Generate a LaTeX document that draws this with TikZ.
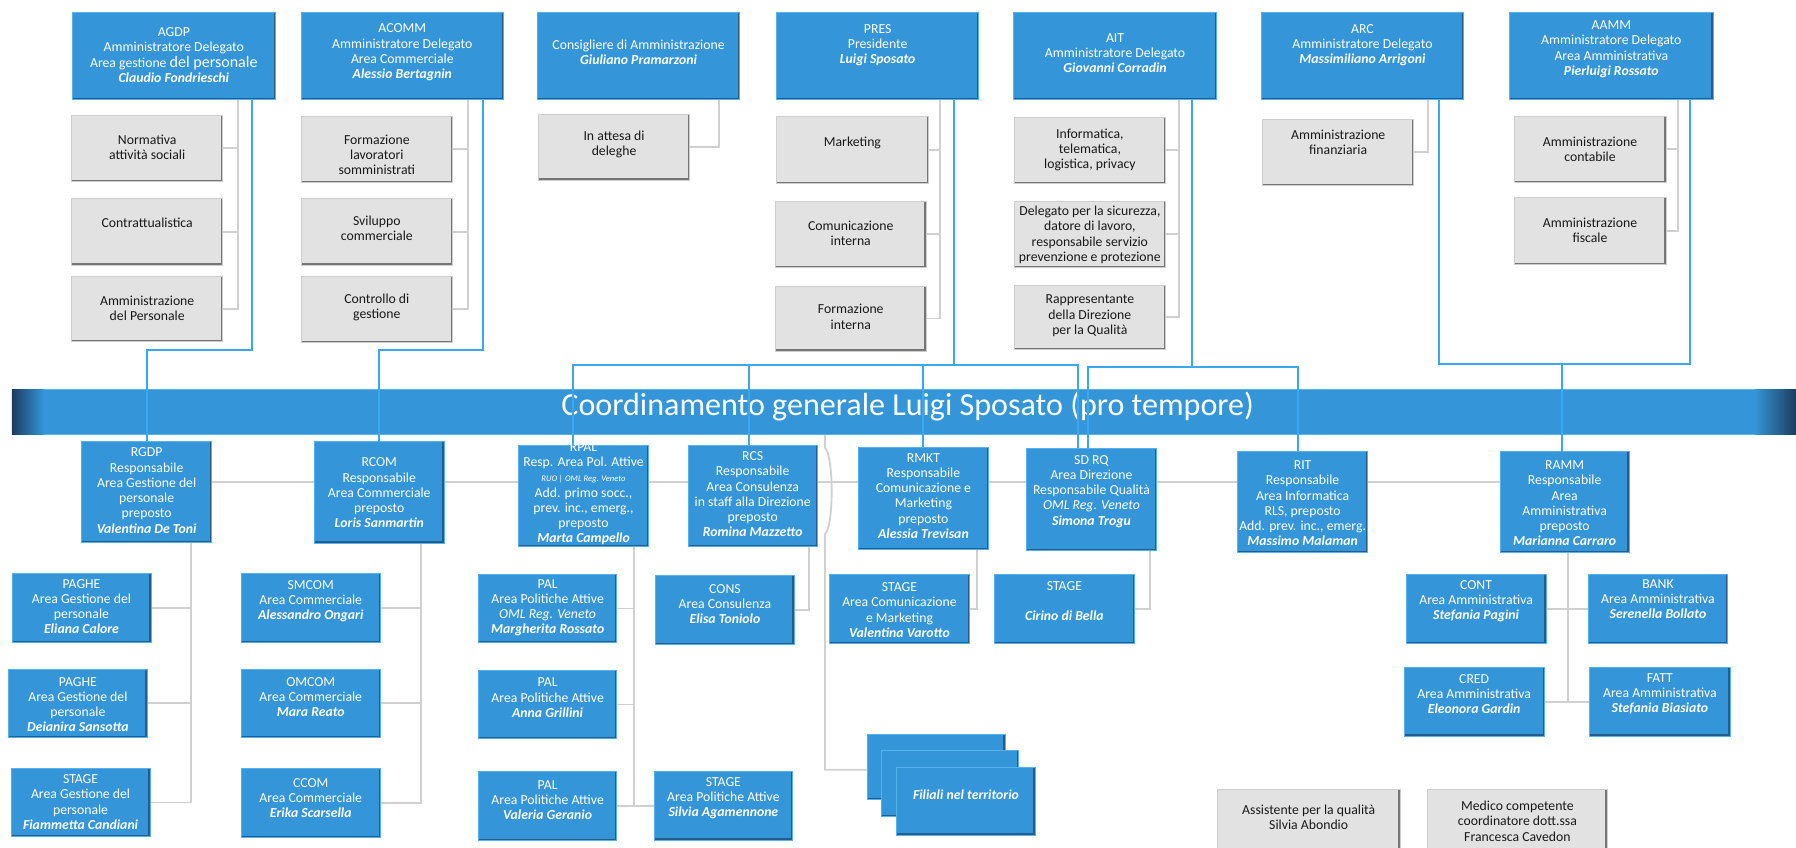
\documentclass[tikz,border=0pt]{standalone}
\usepackage{fontspec}
\setmainfont{Carlito}
\pgfdeclarelayer{bg}
\pgfsetlayers{bg,main}
\definecolor{bxfill}{RGB}{52,150,216}
\definecolor{bxdark}{RGB}{36,92,140}
\definecolor{bxlight}{RGB}{84,178,240}
\definecolor{gyfill}{RGB}{226,226,226}
\definecolor{gyedge}{RGB}{205,205,205}
\definecolor{gydark}{RGB}{118,118,118}
\definecolor{glinec}{RGB}{208,208,208}
\definecolor{blinec}{RGB}{58,168,238}
\definecolor{bnrdark}{RGB}{28,60,95}
\newcommand\NomeP[1]{{\bfseries\itshape #1}}
\tikzset{
  bluebx/.style={draw=bxlight, line width=0.7pt, fill=bxfill, inner sep=0pt, outer sep=0pt,
    path picture={\draw[bxdark, line width=3pt] (path picture bounding box.north east) -- (path picture bounding box.south east) -- (path picture bounding box.south west);}},
  greybx/.style={draw=gyedge, line width=0.7pt, fill=gyfill, inner sep=0pt, outer sep=0pt,
    path picture={\draw[gydark, line width=3pt] (path picture bounding box.north east) -- (path picture bounding box.south east) -- (path picture bounding box.south west);}},
  bluebx text/.style={text=white, align=center, inner sep=0pt, font=\fontsize{12}{13.3}\selectfont},
  greybx text/.style={text=black!90, align=center, inner sep=0pt, font=\fontsize{12}{13.3}\selectfont},
  gconn/.style={draw=glinec, line width=1.6pt},
  bconn/.style={draw=blinec, line width=1.6pt},
}
% style, name, x1, y1, x2, y2, text centre y, text
\newcommand\mkbox[8]{%
  \node[#1, minimum width={(#5-#3)*1pt}, minimum height={(#6-#4)*1pt}, anchor=north west] (#2) at (#3,#4) {};
  \node[#1 text] (#2-t) at ({(#3+#5)/2},#7) {#8};}

\begin{document}
\begin{tikzpicture}[x=1pt,y=-1pt]
\useasboundingbox (0,0) rectangle (1568,740);
\clip (0,0) rectangle (1568,740);

% ---------- top row ----------
\mkbox{bluebx}{agdp}{63}{10.5}{240.5}{87}{48}{AGDP\\Amministratore Delegato\\Area gestione {\fontsize{14}{15}\selectfont del personale}\\\NomeP{Claudio Fondrieschi}}
\mkbox{bluebx}{acomm}{263}{10.5}{439.5}{87}{45.8}{ACOMM\\Amministratore Delegato\\Area Commerciale\\\NomeP{Alessio Bertagnin}}
\mkbox{bluebx}{consig}{469.5}{10.5}{645.5}{87}{45.8}{Consigliere di Amministrazione\\\NomeP{Giuliano Pramarzoni}}
\mkbox{bluebx}{pres}{678}{10.5}{854.5}{87}{39.3}{PRES\\Presidente\\\NomeP{Luigi Sposato}}
\mkbox{bluebx}{ait}{885}{10.5}{1062}{87}{46.6}{AIT\\Amministratore Delegato\\\NomeP{Giovanni Corradin}}
\mkbox{bluebx}{arc}{1101}{10.5}{1278}{87}{39.3}{ARC\\Amministratore Delegato\\\NomeP{Massimiliano Arrigoni}}
\mkbox{bluebx}{aamm}{1318}{10.5}{1495.5}{87}{42.9}{AAMM\\Amministratore Delegato\\Area Amministrativa\\\NomeP{Pierluigi Rossato}}

% ---------- grey function boxes ----------
\mkbox{greybx}{norm}{62.6}{100.4}{194.4}{158.6}{128.5}{Normativa\\attività sociali}
\mkbox{greybx}{contr}{62.6}{173.1}{194.4}{231.4}{194.4}{Contrattualistica}
\mkbox{greybx}{ammp}{62.6}{241.5}{194.4}{298.3}{268.9}{Amministrazione\\del Personale}
\mkbox{greybx}{formaz}{262.8}{101.3}{395.2}{159.5}{135.3}{Formazione\\lavoratori\\somministrati}
\mkbox{greybx}{svil}{262.8}{173.1}{395.2}{231.4}{199.5}{Sviluppo\\commerciale}
\mkbox{greybx}{contg}{262.8}{241}{395.2}{299.2}{268.5}{Controllo di\\gestione}
\mkbox{greybx}{attesa}{470.2}{99.8}{602}{157.2}{125.9}{In attesa di\\deleghe}
\mkbox{greybx}{mkt}{678}{101.9}{810.4}{160}{125.1}{Marketing}
\mkbox{greybx}{comint}{677}{175.5}{808.5}{233.7}{203.7}{Comunicazione\\interna}
\mkbox{greybx}{forint}{677}{249.7}{808.5}{306.4}{276.5}{Formazione\\interna}
\mkbox{greybx}{info}{885.7}{102.4}{1017.3}{160}{131}{Informatica,\\telematica,\\logistica, privacy}
\mkbox{greybx}{deleg}{885.7}{175.5}{1017.3}{233.7}{205}{Delegato per la sicurezza,\\datore di lavoro,\\responsabile servizio\\prevenzione e protezione}
\mkbox{greybx}{rapp}{885.7}{248.8}{1017.3}{305}{275.7}{Rappresentante\\della Direzione\\per la Qualità}
\mkbox{greybx}{afin}{1102.3}{103.9}{1234.3}{162.1}{124.4}{Amministrazione\\finanziaria}
\mkbox{greybx}{acont}{1321.8}{101.3}{1454.5}{159.5}{130.2}{Amministrazione\\contabile}
\mkbox{greybx}{afisc}{1321.8}{172.6}{1454.5}{230.8}{200.8}{Amministrazione\\fiscale}

% ---------- banner ----------
\node[draw=bxlight, line width=0.6pt, fill=bxfill, inner sep=0pt, outer sep=0pt,
      minimum width=1557.6pt, minimum height=39.3pt, anchor=north west] (banner) at (10.4,339.7) {};
\shade[left color=bnrdark, right color=bxfill] (banner.north west) rectangle ([xshift=28pt]banner.south west);
\shade[left color=bxfill, right color=bnrdark] ([xshift=-36pt]banner.north east) rectangle (banner.south east);
\node[text=white, font=\fontsize{28}{32}\selectfont, inner sep=0pt, anchor=base] (bannertxt) at (792.5,362.5) {Coordinamento generale Luigi Sposato (pro tempore)};

% ---------- second row ----------
\mkbox{bluebx}{rgdp}{71.4}{385}{184.7}{473.8}{428.3}{RGDP\\Responsabile\\Area Gestione del\\personale\\preposto\\\NomeP{Valentina De Toni}}
\mkbox{bluebx}{rcom}{274.5}{385.6}{387.7}{474}{430.4}{RCOM\\Responsabile\\Area Commerciale\\preposto\\\NomeP{Loris Sanmartin}}
\mkbox{bluebx}{rpal}{452.9}{388.5}{566}{477}{431}{RPAL\\Resp. Area Pol. Attive\\{\fontsize{7.5}{8}\selectfont\itshape RUO | OML Reg. Veneto}\\Add. primo socc.,\\prev. inc., emerg.,\\preposto\\\NomeP{Marta Campello}}
\mkbox{bluebx}{rcs}{600.7}{388.5}{713.6}{477.3}{431.5}{RCS\\Responsabile\\Area Consulenza\\in staff alla Direzione\\preposto\\\NomeP{Romina Mazzetto}}
\mkbox{bluebx}{rmkt}{749.4}{390.5}{863}{479.6}{432.9}{RMKT\\Responsabile\\Comunicazione e\\Marketing\\preposto\\\NomeP{Alessia Trevisan}}
\mkbox{bluebx}{sdrq}{895.8}{391.4}{1010}{480.8}{429}{SD RQ\\Area Direzione\\Responsabile Qualità\\\textit{OML Reg. Veneto}\\\NomeP{Simona Trogu}}
\mkbox{bluebx}{rit}{1080.7}{393.7}{1193.8}{482.5}{439.5}{RIT\\Responsabile\\Area Informatica\\RLS, preposto\\Add. prev. inc., emerg.\\\NomeP{Massimo Malaman}}
\mkbox{bluebx}{ramm}{1309.8}{394.3}{1422.3}{482.5}{439.5}{RAMM\\Responsabile\\Area\\Amministrativa\\preposto\\\NomeP{Marianna Carraro}}

% ---------- third row ----------
\mkbox{bluebx}{paghe1}{10.4}{501}{131.9}{561}{529.7}{PAGHE\\Area Gestione del\\personale\\\NomeP{Eliana Calore}}
\mkbox{bluebx}{paghe2}{7.6}{584}{128.4}{644}{615}{PAGHE\\Area Gestione del\\personale\\\NomeP{Deianira Sansotta}}
\mkbox{bluebx}{stage1}{9.7}{670.7}{131}{730.5}{700.2}{STAGE\\Area Gestione del\\personale\\\NomeP{Fiammetta Candiani}}
\mkbox{bluebx}{smcom}{210.6}{501}{332}{561}{524.7}{SMCOM\\Area Commerciale\\\NomeP{Alessandro Ongari}}
\mkbox{bluebx}{omcom}{210.6}{584}{332}{644}{608.6}{OMCOM\\Area Commerciale\\\NomeP{Mara Reato}}
\mkbox{bluebx}{ccom}{210.6}{670.7}{332}{731}{696.7}{CCOM\\Area Commerciale\\\NomeP{Erika Scarsella}}
\mkbox{bluebx}{pal1}{417.7}{501.5}{538.5}{561}{530.7}{PAL\\Area Politiche Attive\\\textit{OML Reg. Veneto}\\\NomeP{Margherita Rossato}}
\mkbox{bluebx}{pal2}{417.7}{585}{538.5}{645}{609.1}{PAL\\Area Politiche Attive\\\NomeP{Anna Grillini}}
\mkbox{bluebx}{pal3}{417.7}{673.6}{538.5}{734}{698.4}{PAL\\Area Politiche Attive\\\NomeP{Valeria Geranio}}
\mkbox{bluebx}{silvia}{571.2}{673.7}{691.9}{733.4}{697}{STAGE\\Area Politiche Attive\\\NomeP{Silvia Agamennone}}
\mkbox{bluebx}{cons}{572.5}{502}{693.3}{563}{527.4}{CONS\\Area Consulenza\\\NomeP{Elisa Toniolo}}
\mkbox{bluebx}{stcm}{724.3}{501.4}{846.3}{561.7}{532.7}{STAGE\\Area Comunicazione\\e Marketing\\\NomeP{Valentina Varotto}}
\mkbox{bluebx}{stcb}{868}{501.4}{990.6}{561.7}{524.7}{STAGE\\\mbox{}\\\NomeP{Cirino di Bella}}
\mkbox{bluebx}{cont}{1227.5}{501.4}{1349.9}{561.7}{524.7}{CONT\\Area Amministrativa\\\NomeP{Stefania Pagini}}
\mkbox{bluebx}{bank}{1387}{501.4}{1508}{561.7}{523.1}{BANK\\Area Amministrativa\\\NomeP{Serenella Bollato}}
\mkbox{bluebx}{cred}{1225.8}{582.6}{1348.2}{642.6}{605.9}{CRED\\Area Amministrativa\\\NomeP{Eleonora Gardin}}
\mkbox{bluebx}{fatt}{1388}{582.6}{1510.4}{642.6}{605.9}{FATT\\Area Amministrativa\\\NomeP{Stefania Biasiato}}

% Filiali (stack)
\node[bluebx, minimum width=120.5pt, minimum height=57pt, anchor=north west] (fil1) at (757,640.8) {};
\node[bluebx, minimum width=119.6pt, minimum height=58.2pt, anchor=north west] (fil2) at (769.4,654.8) {};
\mkbox{bluebx}{fil3}{783}{670}{903.6}{729}{694}{\NomeP{Filiali nel territorio}}

% bottom grey boxes
\mkbox{greybx}{assist}{1062.8}{689.5}{1222.3}{752}{713.4}{Assistente per la qualità\\Silvia Abondio}
\mkbox{greybx}{medico}{1246.5}{689.5}{1403}{752}{716.8}{Medico competente\\coordinatore dott.ssa\\Francesca Cavedon}

% ---------- grey connectors ----------
\begin{pgfonlayer}{bg}
\coordinate (tA) at (208,0);
\coordinate (tB) at (408.9,0);
\coordinate (tP) at (820.7,0);
\coordinate (tI) at (1029.6,0);
\coordinate (tM) at (1465.2,0);
\coordinate (tR) at (166.4,0);
\coordinate (tC) at (367.6,0);
\coordinate (tL) at (553.5,0);
\coordinate (tX) at (1369.2,0);
\coordinate (tF) at (720.3,0);
\draw[gconn] (agdp.south -| tA) |- (ammp.east);
\draw[gconn] (norm.east) -- (norm.east -| tA);
\draw[gconn] (contr.east) -- (contr.east -| tA);
\draw[gconn] (acomm.south -| tB) |- (contg.east);
\draw[gconn] (formaz.east) -- (formaz.east -| tB);
\draw[gconn] (svil.east) -- (svil.east -| tB);
\draw[gconn] (consig.south -| 627.8,0) |- (attesa.east);
\draw[gconn] (pres.south -| tP) |- (forint.east);
\draw[gconn] (mkt.east) -- (mkt.east -| tP);
\draw[gconn] (comint.east) -- (comint.east -| tP);
\draw[gconn] (ait.south -| tI) |- (rapp.east);
\draw[gconn] (info.east) -- (info.east -| tI);
\draw[gconn] (deleg.east) -- (deleg.east -| tI);
\draw[gconn] (arc.south -| 1247,0) |- (afin.east);
\draw[gconn] (aamm.south -| tM) |- (afisc.east);
\draw[gconn] (acont.east) -- (acont.east -| tM);
% second row line
\draw[gconn] (rgdp.east |- 0,421) -- (ramm.west |- 0,421);
% RGDP
\draw[gconn] (rgdp.south -| tR) |- (stage1.east);
\draw[gconn] (paghe1.east) -- (paghe1.east -| tR);
\draw[gconn] (paghe2.east) -- (paghe2.east -| tR);
% RCOM
\draw[gconn] (rcom.south -| tC) |- (ccom.east);
\draw[gconn] (smcom.east) -- (smcom.east -| tC);
\draw[gconn] (omcom.east) -- (omcom.east -| tC);
% RPAL
\draw[gconn] (rpal.south -| tL) -- (pal3.east -| tL);
\draw[gconn] (pal1.east) -- (pal1.east -| tL);
\draw[gconn] (pal2.east) -- (pal2.east -| tL);
\draw[gconn] (pal3.east) -- (silvia.west);
% RCS, RMKT, SD RQ
\draw[gconn] (rcs.south -| 706,0) |- (cons.east);
\draw[gconn] (rmkt.south -| 853,0) |- (stcm.east);
\draw[gconn] (sdrq.south -| 1004,0) |- (stcb.east);
% RAMM
\draw[gconn] (ramm.south -| tX) -- (cred.east -| tX);
\draw[gconn] (cont.east) -- (bank.west);
\draw[gconn] (cred.east) -- (fatt.west);
% Filiali
\draw[gconn] (banner.south -| tF) -- (720.3,391) .. controls (728,398) and (728,460) .. (720.3,466) -- (720.3,672) -- (fil1.west |- 0,672);
\end{pgfonlayer}

% ---------- blue connectors ----------
\draw[bconn] (agdp.south -| 220.3,0) |- (128.5,305.6) -- (rgdp.north -| 128.5,0);
\draw[bconn] (acomm.south -| 422,0) |- (331,305.6) -- (rcom.north -| 331,0);
\draw[bconn] (pres.south -| 832.8,0) -- (832.8,318.8);
\draw[bconn] (rpal.north -| 500.6,0) |- (940.8,318.8) -- (sdrq.north -| 940.8,0);
\draw[bconn] (654.2,318.8) -- (rcs.north -| 654.2,0);
\draw[bconn] (806.1,318.8) -- (rmkt.north -| 806.1,0);
\draw[bconn] (ait.south -| 1041,0) -- (1041,320.6);
\draw[bconn] (sdrq.north -| 949.8,0) |- (1133.2,320.6) -- (rit.north -| 1133.2,0);
\draw[bconn] (arc.south -| 1256.6,0) |- (1475.2,318) -- (aamm.south -| 1475.2,0);
\draw[bconn] (1364,318) -- (ramm.north -| 1364,0);
\end{tikzpicture}
\end{document}
